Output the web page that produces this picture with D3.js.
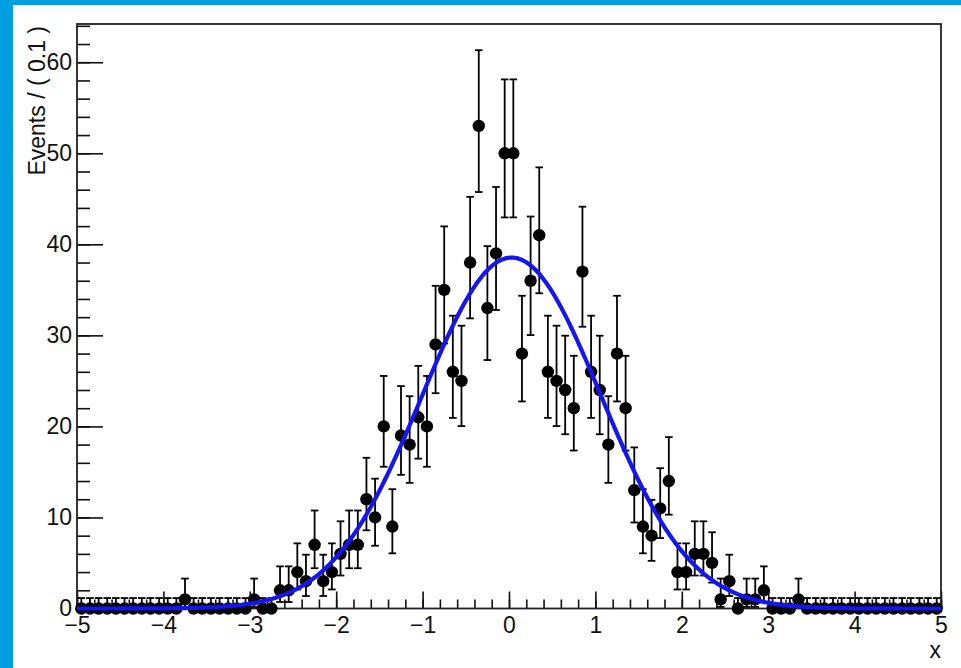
<!DOCTYPE html>
<html><head><meta charset="utf-8">
<script src="https://cdn.jsdelivr.net/npm/d3@7"></script>
<style>html,body{margin:0;padding:0;background:#fff;overflow:hidden}</style>
</head><body><svg id="c" width="961" height="668"></svg>
<script>
// ---- data ----
const binLow = -5, binWidth = 0.1;
const counts = [
  0,0,0,0,0,0,0,0,0,0,      // -4.95 .. -4.05
  0,0,1,0,0,0,0,0,0,0,      // -3.95 .. -3.05
  1,0,0,2,2,4,3,7,3,4,      // -2.95 .. -2.05
  6,7,7,12,10,20,9,19,18,21,// -1.95 .. -1.05
  20,29,35,26,25,38,53,33,39,50, // -0.95 .. -0.05
  50,28,36,41,26,25,24,22,37,26, // 0.05 .. 0.95
  24,18,28,22,13,9,8,11,14,4,    // 1.05 .. 1.95
  4,6,6,5,1,3,0,1,1,2,           // 2.05 .. 2.95
  0,0,0,1,0,0,0,0,0,0,           // 3.05 .. 3.95
  0,0,0,0,0,0,0,0,0,0            // 4.05 .. 4.95
];
const xTicks = [-5,-4,-3,-2,-1,0,1,2,3,4,5];
const yTicks = [0,10,20,30,40,50,60];
const xDomain = [-5, 5];
const yDomain = [0, 64.2];
const fitMean = 0.03, fitSigma = 1.035, fitEvents = 1000;
const yAxisTitle = "Events / ( 0.1 )";
const xAxisTitle = "x";

// ---- drawing ----
const W = 961, H = 668;
const frame = {left: 77, top: 24, right: 941, bottom: 608.5};
const FONT = "'Liberation Sans', Arial, Helvetica, sans-serif";
const FS = 23;
const svg = d3.select("#c");
svg.append("rect").attr("width", W).attr("height", H).attr("fill", "#fff");
svg.append("rect").attr("x", 0).attr("y", 0).attr("width", 13).attr("height", H).attr("fill", "#009fe0");
svg.append("rect").attr("x", 0).attr("y", 0).attr("width", W).attr("height", 5).attr("fill", "#009fe0");

const x = d3.scaleLinear().domain(xDomain).range([frame.left, frame.right]);
const y = d3.scaleLinear().domain(yDomain).range([frame.bottom, frame.top]);

function styleAxis(g) {
  g.select(".domain").remove();
  g.selectAll("line").attr("stroke", "#111").attr("stroke-width", 1.6);
  g.selectAll("text").attr("font-family", FONT).attr("font-size", FS).attr("fill", "#111");
}

// minor ticks
const gyMinor = svg.append("g").attr("transform", `translate(${frame.left},0)`)
  .call(d3.axisLeft(y).tickValues(d3.range(0, yDomain[1], 2)).tickSize(-13).tickFormat(""));
styleAxis(gyMinor);
const gxMinor = svg.append("g").attr("transform", `translate(0,${frame.bottom})`)
  .call(d3.axisBottom(x).tickValues(d3.range(-50, 51, 2).map(v => v / 10)).tickSize(-9).tickFormat(""));
styleAxis(gxMinor);

// major ticks
const gy = svg.append("g").attr("transform", `translate(${frame.left},0)`)
  .call(d3.axisLeft(y).tickValues(yTicks).tickSize(-26).tickPadding(5).tickFormat(d3.format("d")));
styleAxis(gy);
const gx = svg.append("g").attr("transform", `translate(0,${frame.bottom})`)
  .call(d3.axisBottom(x).tickValues(xTicks).tickSize(-17).tickPadding(8).tickFormat(d3.format("d")));
styleAxis(gx);

// frame
svg.append("rect").attr("x", frame.left).attr("y", frame.top)
  .attr("width", frame.right - frame.left).attr("height", frame.bottom - frame.top)
  .attr("fill", "none").attr("stroke", "#222").attr("stroke-width", 1.8);

// axis titles
svg.append("text").attr("transform", `translate(45,${frame.top + 2}) rotate(-90)`)
  .attr("text-anchor", "end").attr("font-family", FONT).attr("font-size", FS).attr("fill", "#111")
  .text(yAxisTitle);
svg.append("text").attr("x", frame.right).attr("y", 658)
  .attr("text-anchor", "end").attr("font-family", FONT).attr("font-size", FS).attr("fill", "#111")
  .text(xAxisTitle);

// Poisson (RooFit-like) error interval
function poisson(n) {
  if (n === 0) return [0, 1.1478];
  const lo = n * Math.pow(1 - 1 / (9 * n) - 1 / (3 * Math.sqrt(n)), 3);
  const m = n + 1;
  const hi = m * Math.pow(1 - 1 / (9 * m) + 1 / (3 * Math.sqrt(m)), 3);
  return [n - lo, hi - n];
}

const pts = counts.map((n, i) => {
  const e = poisson(n);
  return {x: binLow + binWidth * (i + 0.5), n, lo: n - e[0], hi: n + e[1]};
});

const gData = svg.append("g");
const cap = 3.8;
const eb = gData.selectAll("g.eb").data(pts).join("g").attr("class", "eb")
  .attr("stroke", "#000").attr("stroke-width", 1.8);
eb.append("line").attr("x1", d => x(d.x)).attr("x2", d => x(d.x))
  .attr("y1", d => y(d.lo)).attr("y2", d => y(d.hi));
eb.append("line").attr("x1", d => x(d.x) - cap).attr("x2", d => x(d.x) + cap)
  .attr("y1", d => y(d.hi)).attr("y2", d => y(d.hi));
eb.append("line").attr("x1", d => x(d.x) - cap).attr("x2", d => x(d.x) + cap)
  .attr("y1", d => y(d.lo)).attr("y2", d => y(d.lo));
gData.selectAll("circle").data(pts).join("circle")
  .attr("cx", d => x(d.x)).attr("cy", d => y(d.n)).attr("r", 6.2).attr("fill", "#000");

// Gaussian fit curve
const amp = fitEvents * binWidth / (fitSigma * Math.sqrt(2 * Math.PI));
const curveX = d3.range(0, 1001).map(k => xDomain[0] + (xDomain[1] - xDomain[0]) * k / 1000);
const line = d3.line().x(d => x(d)).y(d => y(amp * Math.exp(-0.5 * Math.pow((d - fitMean) / fitSigma, 2))));
svg.append("path").datum(curveX).attr("d", line)
  .attr("fill", "none").attr("stroke", "#1515f2").attr("stroke-width", 4.2);
</script></body></html>
